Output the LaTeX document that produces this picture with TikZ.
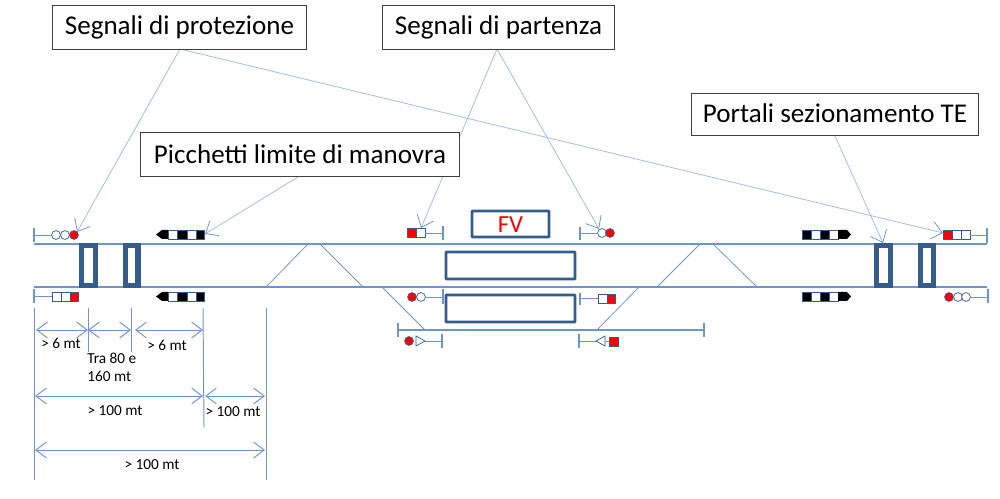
\documentclass[tikz,border=0pt]{standalone}
\usepackage{fontspec}
\setmainfont{Carlito}
\usetikzlibrary{arrows.meta}
\definecolor{railblue}{RGB}{110,150,205}
\definecolor{leadblue}{RGB}{160,190,225}
\definecolor{boxblue}{RGB}{54,92,140}
\tikzset{
  label box/.style={draw=black!75,fill=white,line width=0.5pt,inner sep=0pt,text height=9.5pt,text depth=0.5pt,font=\fontsize{15.4}{17}\selectfont},
  dim label/.style={inner sep=0pt,font=\fontsize{8.7}{10}\selectfont},
  rail/.style={draw=railblue,line width=0.7pt},
  thin rail/.style={draw=railblue,line width=0.45pt},
  leader/.style={draw=leadblue,line width=0.45pt,-{Straight Barb[length=6pt,width=10pt,color=railblue]}},
  dimline/.style={draw=railblue,line width=0.55pt},
  dimarrow/.style={draw=railblue,line width=0.55pt,{Straight Barb[length=6pt,width=9pt]}-{Straight Barb[length=6pt,width=9pt]}},
  portal/.style={draw=boxblue,line width=3pt},
  platform/.style={draw=boxblue,line width=1.6pt,rounded corners=0.3pt},
  lamp/.style={circle,draw=boxblue,fill=white,line width=0.4pt,minimum size=5pt,inner sep=0pt},
  redlamp/.style={lamp,fill=red},
  cell/.style={draw=boxblue,fill=white,line width=0.4pt},
  redcell/.style={draw=boxblue,fill=red,line width=0.4pt},
  darkcell/.style={draw=boxblue,fill=black,line width=0.4pt},
}
\begin{document}
\begin{tikzpicture}[x=0.2mm,y=-0.2mm]
\useasboundingbox (0,0) rectangle (1000,499);

% rails
\coordinate (ra) at (34,244);
\coordinate (rb) at (987,244);
\coordinate (rc) at (34,287);
\coordinate (rd) at (987,287);
\draw[rail] (ra) -- (rb);
\draw[rail] (rc) -- (rd);
\coordinate (sa) at (398,330);
\coordinate (sb) at (704,330);
\draw[rail] (sa) -- (sb);
\draw[rail] (398,323) -- (398,337);
\draw[rail] (704,323) -- (704,337);

% crossovers
\draw[thin rail] (266,287) -- (308,244);
\draw[thin rail] (320,244) -- (363,287);
\draw[thin rail] (382,287) -- (425,330);
\draw[thin rail] (639,287) -- (597,330);
\draw[thin rail] (657,287) -- (700,244);
\draw[thin rail] (713,244) -- (757,287);

% portals
\foreach \xa/\xb in {81.5/95.5,125.5/138,876.5/890.5,920.5/933.5}
  \draw[portal] (\xa,245.5) rectangle (\xb,285.5);

% platforms
\draw[platform] (472,211) rectangle (549,237);
\node[red,font=\fontsize{14}{16}\selectfont] (fv) at (510.5,225) {FV};
\draw[platform] (446,252) rectangle (575,279);
\draw[platform] (446,295) rectangle (575,322);

% signals, top left
\coordinate (tla) at (34,235);
\draw[rail] (34,228) -- (34,242);
\node[lamp] (tlb) at (56,235) {};
\node[lamp] (tlc) at (65,235) {};
\node[redlamp] (tld) at (74,235) {};
\draw[thin rail] (tla) -- (tlb);

% signals, bottom left
\coordinate (bla) at (34,296);
\draw[rail] (34,289) -- (34,303);
\draw[cell] (52,292) rectangle (61,301);
\draw[cell] (61,292) rectangle (70,301);
\draw[redcell] (70,292) rectangle (78,301);
\coordinate (blb) at (52,296);
\draw[thin rail] (bla) -- (blb);

% shunting boards
\foreach \y in {230,292} {
  \fill[black] (156,\y+4.5) -- (162,\y) -- (168,\y) -- (168,\y+9) -- (162,\y+9) -- cycle;
  \draw[cell] (168,\y) rectangle (177,\y+9);
  \draw[darkcell] (177,\y) rectangle (187,\y+9);
  \draw[cell] (187,\y) rectangle (196,\y+9);
  \draw[darkcell] (196,\y) rectangle (204,\y+9);
  \draw[darkcell] (802,\y) rectangle (811,\y+9);
  \draw[cell] (811,\y) rectangle (820,\y+9);
  \draw[darkcell] (820,\y) rectangle (829,\y+9);
  \draw[cell] (829,\y) rectangle (838,\y+9);
  \fill[black] (838,\y) -- (847,\y) -- (851,\y+4.5) -- (847,\y+9) -- (838,\y+9) -- cycle;
}

% signals, station
\draw[redcell] (407,228) rectangle (416,237);
\draw[cell] (416,228) rectangle (425,237);
\draw[thin rail] (425,233) -- (443,233);
\draw[rail] (443,226) -- (443,240);
\draw[rail] (580,227) -- (580,240);
\node[lamp] (pa) at (602,233) {};
\node[redlamp] (pb) at (610,233) {};
\coordinate (pc) at (580,233);
\draw[thin rail] (pc) -- (pa);
\node[redlamp] (qa) at (412,297) {};
\node[lamp] (qb) at (421,297) {};
\coordinate (qc) at (443,297);
\draw[thin rail] (qb) -- (qc);
\draw[rail] (443,289) -- (443,304);
\draw[rail] (580,293) -- (580,305);
\draw[thin rail] (580,298) -- (598,298);
\draw[cell] (598,294) rectangle (607,303);
\draw[redcell] (607,294) rectangle (615,303);
\node[redlamp] (ua) at (409,341) {};
\draw[cell] (416,336) -- (425,341) -- (416,346) -- cycle;
\draw[thin rail] (425,341) -- (442,341);
\draw[rail] (442,334) -- (442,348);
\draw[rail] (579,334) -- (579,348);
\draw[thin rail] (579,341) -- (596,341);
\draw[cell] (596,341) -- (605,336) -- (605,346) -- cycle;
\draw[thin rail] (605,341) -- (609,341);
\draw[redcell] (609,337) rectangle (618,346);

% signals, right
\draw[redcell] (943,230) rectangle (952,239);
\draw[cell] (952,230) rectangle (961,239);
\draw[cell] (961,230) rectangle (970,239);
\draw[thin rail] (970,235) -- (987,235);
\draw[rail] (987,228) -- (987,243);
\node[redlamp] (ra1) at (949,297) {};
\node[lamp] (ra2) at (958,297) {};
\node[lamp] (ra3) at (966,297) {};
\coordinate (ra4) at (988,297);
\draw[thin rail] (ra3) -- (ra4);
\draw[rail] (988,289) -- (988,303);

% leaders
\coordinate (prota) at (180,49);
\coordinate (protb) at (77,232);
\coordinate (protc) at (943,233);
\coordinate (pica) at (298,177);
\coordinate (picb) at (205,234);
\coordinate (para) at (497,49);
\coordinate (parb) at (421,228);
\coordinate (parc) at (599,229);
\coordinate (pora) at (835,136);
\coordinate (porb) at (883,243);
\draw[leader] (prota) -- (protb);
\draw[leader] (prota) -- (protc);
\draw[leader] (para) -- (parb);
\draw[leader] (para) -- (parc);
\draw[leader] (pica) -- (picb);
\draw[leader] (pora) -- (porb);

% labels
\node[label box,minimum width=144.5pt,minimum height=25pt] (prot) at (179.5,27) {Segnali di protezione\hspace{3.4pt}};
\node[label box,minimum width=132pt,minimum height=25pt] (par) at (498.5,27) {Segnali di partenza\hspace{2pt}};
\node[label box,minimum width=181.5pt,minimum height=25.5pt,text height=10pt,text depth=0pt] (pic) at (300,154.5) {Picchetti limite di manovra\hspace{4pt}};
\node[label box,minimum width=163pt,minimum height=24.4pt,text height=9.3pt,text depth=0.7pt] (por) at (835,114.5) {Portali sezionamento TE};

% dimensions
\coordinate (da) at (34,308);
\coordinate (db) at (34,480);
\coordinate (dc) at (88,308);
\coordinate (dd) at (88,352);
\coordinate (de) at (131,308);
\coordinate (df) at (131,352);
\coordinate (dg) at (203,308);
\coordinate (dh) at (204,428);
\coordinate (di) at (266,308);
\coordinate (dj) at (266,480);
\draw[dimline] (da) -- (db);
\draw[dimline] (dc) -- (dd);
\draw[dimline] (de) -- (df);
\draw[dimline] (dg) -- (dh);
\draw[dimline] (di) -- (dj);
\draw[dimarrow] (36,330) -- (88,330);
\draw[dimarrow] (88,330) -- (131,330);
\draw[dimarrow] (135,330) -- (203,330);
\draw[dimarrow] (35,396) -- (203,396);
\draw[dimarrow] (205,396) -- (265,396);
\draw[dimarrow] (35,450) -- (265,450);
\node[dim label] (la) at (61,343) {> 6 mt};
\node[dim label,anchor=west] (lb) at (87,358) {Tra 80 e};
\node[dim label,anchor=west] (lc) at (87,376) {160 mt};
\node[dim label] (ld) at (167,345) {> 6 mt};
\node[dim label] (le) at (115,411) {> 100 mt};
\node[dim label] (lf) at (233,412) {> 100 mt};
\node[dim label] (lg) at (152,465) {> 100 mt};
\end{tikzpicture}
\end{document}
